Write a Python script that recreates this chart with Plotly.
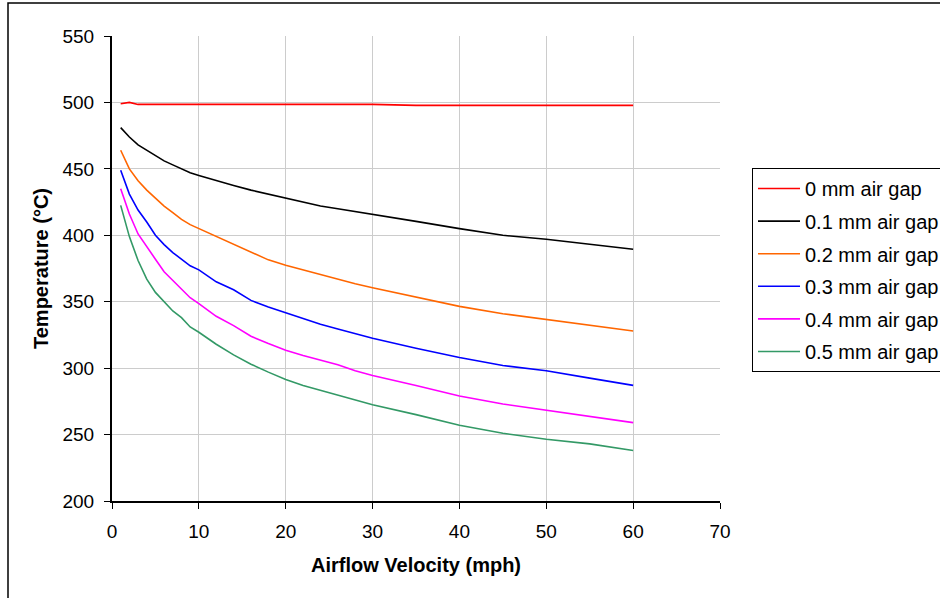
import plotly.graph_objects as go

velocity = [1, 2, 3, 4, 5, 6, 7, 8, 9, 10, 12, 14, 16, 18, 20, 22, 24, 26, 28, 30, 35, 40, 45, 50, 55, 60]

gap_0_0 = [499, 500, 498.5, 498.5, 498.5, 498.5, 498.5, 498.5, 498.5, 498.5, 498.5, 498.5, 498.5, 498.5,
           498.5, 498.5, 498.5, 498.5, 498.5, 498.5, 497.8, 497.8, 497.8, 497.8, 497.8, 497.8]
gap_0_1 = [481, 474, 468, 464, 460, 456, 453, 450, 447, 445, 441, 437.5, 434, 431, 428, 425, 422, 420,
           418, 416, 410.5, 405, 400, 397, 393, 389.5]
gap_0_2 = [464, 450, 441, 434, 428, 422, 417, 412, 408, 405, 399, 393, 387, 381.5, 377.5, 374, 370, 367,
           363.5, 360.5, 353.5, 346.5, 341, 336.5, 332, 328]
gap_0_3 = [449, 431, 419, 410, 400, 393, 387, 382, 377, 374, 365, 359, 351, 346, 341.5, 337, 333, 329.5,
           326, 322.5, 315, 308, 302, 298, 292.5, 287]
gap_0_4 = [435, 416, 401, 391, 382, 372.5, 366, 359.5, 353, 348.5, 339, 332, 324, 318.5, 313.5, 309.5,
           306, 302.5, 298, 294.5, 287, 279, 273, 268.5, 263.5, 259]
gap_0_5 = [422.5, 399, 381, 367, 357, 350, 343, 338, 331, 327, 318, 310, 303, 297, 291.5, 287, 283.5,
           280, 276.5, 272.5, 265, 257, 251, 246.5, 243, 238]

series_names = ["0 mm air gap", "0.1 mm air gap", "0.2 mm air gap", "0.3 mm air gap",
                "0.4 mm air gap", "0.5 mm air gap"]
series_values = [gap_0_0, gap_0_1, gap_0_2, gap_0_3, gap_0_4, gap_0_5]
series_colors = ["#ff0000", "#000000", "#ff6600", "#0000ff", "#ff00ff", "#339966"]

x_ticks = [0, 10, 20, 30, 40, 50, 60, 70]
y_ticks = [200, 250, 300, 350, 400, 450, 500, 550]

FONT = "Liberation Sans, Arial, sans-serif"

fig = go.Figure()
for name, vals, col in zip(series_names, series_values, series_colors):
    fig.add_trace(go.Scatter(x=velocity, y=vals, mode="lines", name=name,
                             legendgroup=name,
                             line=dict(color=col, width=1.6)))

W, H = 940, 598
L, R, T, B = 112, 220, 36, 97
pw, ph = W - L - R, H - T - B

def px_x(p):
    return (p - L) / pw

def px_y(p):
    return (H - B - p) / ph

fig.update_layout(
    width=W, height=H, autosize=False,
    margin=dict(l=L, r=R, t=T, b=B, pad=0),
    paper_bgcolor="white", plot_bgcolor="white",
    font=dict(family=FONT, size=19, color="black"),
    showlegend=True,
    legend=dict(xref="container", yref="container",
                x=752 / W, y=1 - 168 / H, xanchor="left", yanchor="top",
                bordercolor="black", borderwidth=1, bgcolor="white",
                font=dict(size=20), tracegroupgap=3.6, itemwidth=42),
    xaxis=dict(range=[0, 70], tickvals=x_ticks, ticks="outside", ticklen=6, tickcolor="black",
               showline=True, linecolor="black", linewidth=2, showgrid=True,
               gridcolor="#cccccc", gridwidth=1, zeroline=False,
               title=dict(text="<b>Airflow Velocity (mph)</b>", font=dict(size=20), standoff=17),
               ticklabelstandoff=6, automargin=False),
    yaxis=dict(range=[200, 550], tickvals=y_ticks, ticks="outside", ticklen=6, tickcolor="black",
               showline=True, linecolor="black", linewidth=2, showgrid=True,
               gridcolor="#cccccc", gridwidth=1, zeroline=False,
               title=dict(text="<b>Temperature (°C)</b>", font=dict(size=20), standoff=8),
               ticklabelstandoff=6, automargin=False),
    shapes=[dict(type="rect", xref="paper", yref="paper",
                 x0=px_x(8), x1=px_x(960), y0=px_y(620), y1=px_y(3),
                 line=dict(color="black", width=1.5), fillcolor="rgba(0,0,0,0)", layer="below")],
)

fig.write_html("out.html")
